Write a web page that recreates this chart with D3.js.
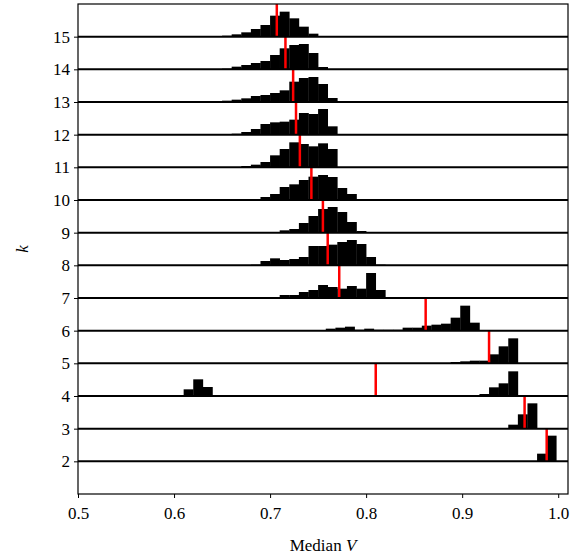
<!DOCTYPE html>
<html><head><meta charset="utf-8">
<script src="https://cdn.jsdelivr.net/npm/d3@7"></script>
<style>body{margin:0;background:#fff}</style>
</head><body>
<svg id="chart" width="584" height="556"></svg>
<script>
// histogram rows, heights in units where 98 = one row spacing
var ks = [15,14,13,12,11,10,9,8,7,6,5,4,3,2];
var binStarts = [0.65,0.65,0.65,0.66,0.66,0.69,0.70,0.68,0.70,0.758,0.878,0.918,0.938,0.968];
var counts = [
  [3,7,13,23,35,63,75,55,30,9],
  [2,8,13,19,25,43,63,73,76,49,7],
  [4,7,11,18,21,27,35,61,72,75,54,12],
  [3,8,17,32,37,39,45,65,62,77,25],
  [1,4,8,16,36,55,75,70,63,72,55,1],
  [9,18,39,47,60,70,75,69,36,18],
  [2,7,11,29,50,71,77,62,32,5],
  [2,13,21,16,19,25,58,58,62,70,76,64,25,2],
  [3,9,9,18,24,39,33,28,36,28,75,24],
  [6,9,12,3,6,3,3,3,9,9,15,18,21,39,75,24],
  [1,4,6,8,8,27,51,75],
  [6,26,38,74],
  [2,12,43,76],
  [1,23,77]
];
// extra low cluster for k = 4
var lowStart = 0.61, lowCounts = [20,50,27];
var medians = [0.707,0.716,0.724,0.727,0.731,0.743,0.755,0.760,0.772,0.862,0.928,0.810,0.965,0.988];
var binW = 0.01;

var svg = d3.select("#chart");
var x = d3.scaleLinear().domain([0.5,1.0102]).range([78,568]);
var y = d3.scaleLinear().domain([1,16]).range([494,4]);
var hScale = d3.scaleLinear().domain([0,98]).range([0,y(1)-y(2)]);

var bars = [];
ks.forEach(function(k,i){
  counts[i].forEach(function(c,j){ bars.push({k:k, x0:binStarts[i]+j*binW, c:c}); });
  if (k === 4) lowCounts.forEach(function(c,j){ bars.push({k:k, x0:lowStart+j*binW, c:c}); });
});

svg.append("g").selectAll("rect").data(bars).enter().append("rect")
  .attr("x", function(d){return x(d.x0);})
  .attr("width", function(d){return x(d.x0+binW)-x(d.x0)+0.3;})
  .attr("y", function(d){return y(d.k)-hScale(d.c);})
  .attr("height", function(d){return hScale(d.c);})
  .attr("fill","#000");

svg.append("g").selectAll("line").data(ks).enter().append("line")
  .attr("x1", function(d,i){return x(medians[i]);})
  .attr("x2", function(d,i){return x(medians[i]);})
  .attr("y1", function(d){return y(d);})
  .attr("y2", function(d){return y(d+1);})
  .attr("stroke","red").attr("stroke-width",2.5);

svg.append("g").selectAll("line").data(ks).enter().append("line")
  .attr("x1",78).attr("x2",568)
  .attr("y1", function(d){return y(d);}).attr("y2", function(d){return y(d);})
  .attr("stroke","#000").attr("stroke-width",2);

svg.append("rect").attr("x",78).attr("y",4).attr("width",490).attr("height",490)
  .attr("fill","none").attr("stroke","#000").attr("stroke-width",1.2);

var font = "'Liberation Serif', 'DejaVu Serif', serif";
var xAxis = svg.append("g").attr("transform","translate(0,494)")
  .call(d3.axisBottom(x).tickValues([0.5,0.6,0.7,0.8,0.9,1.0]).tickFormat(d3.format(".1f")).tickSizeOuter(0).tickSize(4));
var yAxis = svg.append("g").attr("transform","translate(78,0)")
  .call(d3.axisLeft(y).tickValues(d3.range(2,16)).tickSizeOuter(0).tickSize(4));
[xAxis,yAxis].forEach(function(a){
  a.attr("font-family",font).attr("font-size",17);
  a.select(".domain").remove();
  a.selectAll("line").attr("stroke","#000").attr("stroke-width",1);
  a.selectAll("text").attr("fill","#000");
});
xAxis.selectAll("text").attr("dy","1.05em");
yAxis.selectAll("text").attr("x",-8);

svg.append("text").attr("x",323).attr("y",551).attr("text-anchor","middle")
  .attr("font-family",font).attr("font-size",17)
  .html("Median <tspan font-style='italic'>V</tspan>");
svg.append("text").attr("transform","translate(28,249) rotate(-90)").attr("text-anchor","middle")
  .attr("font-family",font).attr("font-size",17).attr("font-style","italic").text("k");
</script>
</body></html>
